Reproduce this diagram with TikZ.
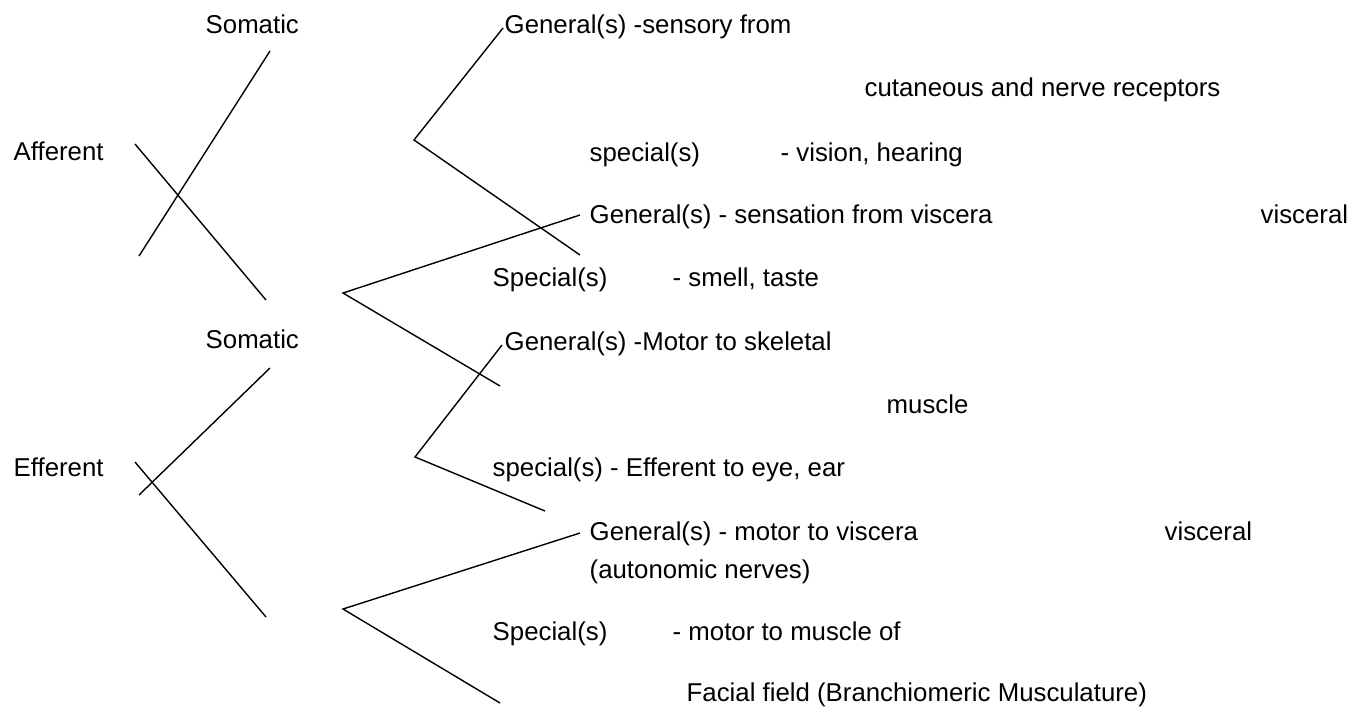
\documentclass[tikz,border=0pt]{standalone}
\usepackage{fontspec}
\setmainfont{Liberation Sans}
\usepackage{tikz}

\begin{document}
\begin{tikzpicture}[x=1pt,y=-1pt,line width=1.4pt,
  lbl/.style={anchor=base west,inner sep=0pt,font=\fontsize{25.8}{30}\selectfont}]
\useasboundingbox (0,0) rectangle (1367,715);
% left column
\node[lbl] (som1) at (205,33) {Somatic};
\node[lbl] (aff) at (13,160) {Afferent};
\node[lbl] (som2) at (205,348) {Somatic};
\node[lbl] (eff) at (13,476) {Efferent};
% afferent side
\node[lbl] (gsens) at (504,33) {General(s) -sensory from};
\node[lbl] (cutan) at (864,96) {cutaneous and nerve receptors};
\node[lbl] (sspec) at (589,161) {special(s)};
\node[lbl] (svis) at (780,161) {- vision, hearing};
\node[lbl] (gvisc) at (589,223) {General(s) - sensation from viscera};
\node[lbl] (visc1) at (1260,223) {visceral};
\node[lbl] (vspec) at (492,286) {Special(s)};
\node[lbl] (vsmell) at (672,286) {- smell, taste};
% efferent side
\node[lbl] (gmot) at (504,350) {General(s) -Motor to skeletal};
\node[lbl] (musc) at (886,413) {muscle};
\node[lbl] (espec) at (492,476) {special(s) - Efferent to eye, ear};
\node[lbl] (gmv) at (589,540) {General(s) - motor to viscera};
\node[lbl] (visc2) at (1164,540) {visceral};
\node[lbl] (auton) at (589,578) {(autonomic nerves)};
\node[lbl] (mspec) at (492,640) {Special(s)};
\node[lbl] (mmus) at (672,640) {- motor to muscle of};
\node[lbl] (facial) at (686,701) {Facial field (Branchiomeric Musculature)};
% crossing strokes
\coordinate (a1s) at (139,256); \coordinate (a1e) at (270,51);
\coordinate (a2s) at (135,144); \coordinate (a2e) at (266,300);
\coordinate (e1s) at (139,495); \coordinate (e1e) at (270,368);
\coordinate (e2s) at (135,462); \coordinate (e2e) at (266,617);
\draw (a1s) -- (a1e);
\draw (a2s) -- (a2e);
\draw (e1s) -- (e1e);
\draw (e2s) -- (e2e);
% forks
\coordinate (fa) at (414,140); \coordinate (fa1) at (503,28);  \coordinate (fa2) at (580,255);
\coordinate (fb) at (343,293); \coordinate (fb1) at (580,215); \coordinate (fb2) at (500,386);
\coordinate (fc) at (415,457); \coordinate (fc1) at (502,345); \coordinate (fc2) at (545,511);
\coordinate (fd) at (343,609); \coordinate (fd1) at (580,533); \coordinate (fd2) at (500,703);
\foreach \f in {fa,fb,fc,fd} \draw (\f1) -- (\f) -- (\f2);
\end{tikzpicture}
\end{document}
